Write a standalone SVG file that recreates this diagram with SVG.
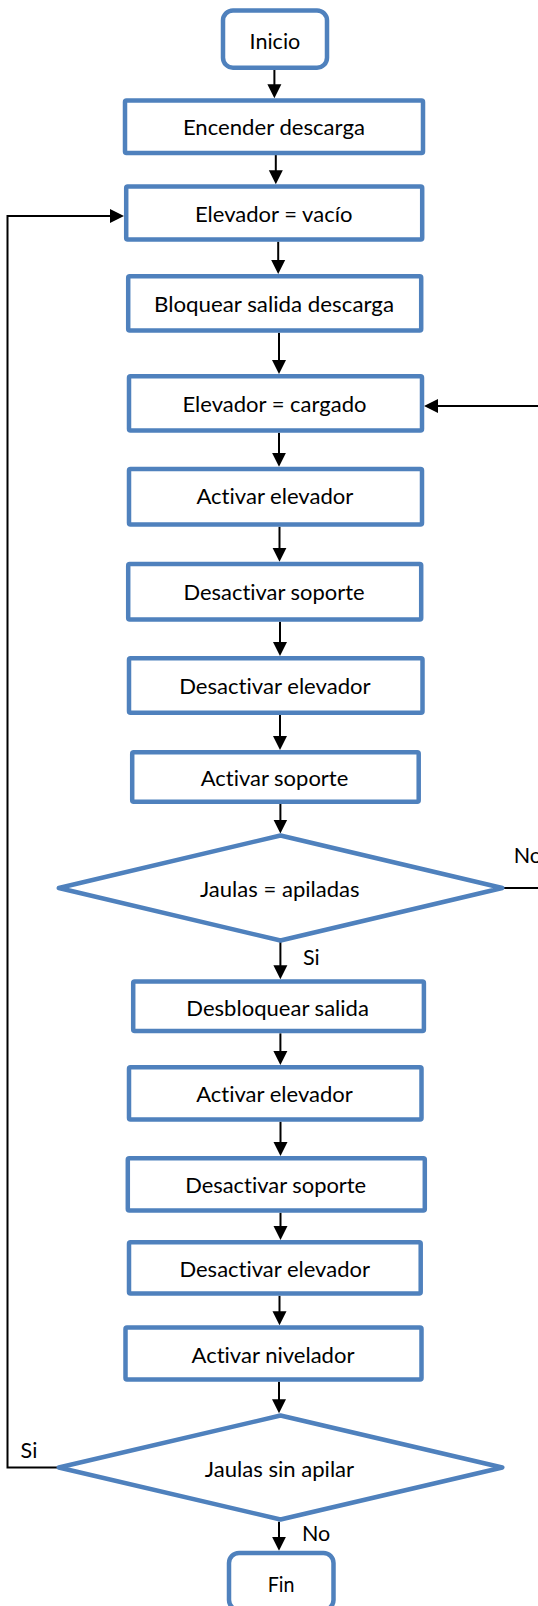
<svg xmlns="http://www.w3.org/2000/svg" width="538" height="1606" viewBox="0 0 538 1606">
<style>
.n{fill:#fff;stroke:#4F81BD;stroke-width:4.5;stroke-linejoin:round}
.t{font-family:Lato,"Open Sans","Liberation Sans",sans-serif;font-size:21.5px;fill:#000;text-anchor:middle;font-variant-ligatures:none;font-feature-settings:"liga" 0,"clig" 0,"dlig" 0}
.l{font-family:Lato,"Open Sans","Liberation Sans",sans-serif;font-size:21.5px;fill:#000;font-variant-ligatures:none}
.c{fill:none;stroke:#000;stroke-width:2}
</style>
<defs>
<marker id="ah" markerUnits="userSpaceOnUse" markerWidth="15" markerHeight="15" refX="9.5" refY="7.5" orient="auto">
<path d="M0,0.5 L14,7.5 L0,14.5 z" fill="#000"/>
</marker>
</defs>
<rect width="538" height="1606" fill="#fff"/>
<g id="connectors">
<path class="c" marker-end="url(#ah)" d="M274.4,70 V93.8"/>
<path class="c" marker-end="url(#ah)" d="M275.8,155 V179.8"/>
<path class="c" marker-end="url(#ah)" d="M278.2,241.7 V269.5"/>
<path class="c" marker-end="url(#ah)" d="M279,332.7 V369.5"/>
<path class="c" marker-end="url(#ah)" d="M279,432.7 V462.2"/>
<path class="c" marker-end="url(#ah)" d="M279.5,526.7 V557.2"/>
<path class="c" marker-end="url(#ah)" d="M280,621.7 V651.5"/>
<path class="c" marker-end="url(#ah)" d="M280,715 V745.5"/>
<path class="c" marker-end="url(#ah)" d="M280.4,804 V829"/>
<path class="c" marker-end="url(#ah)" d="M280.4,942 V974.8"/>
<path class="c" marker-end="url(#ah)" d="M280.4,1033.3 V1060.5"/>
<path class="c" marker-end="url(#ah)" d="M280.5,1121.7 V1151.5"/>
<path class="c" marker-end="url(#ah)" d="M280.5,1212.7 V1235.5"/>
<path class="c" marker-end="url(#ah)" d="M279.5,1295.7 V1320.8"/>
<path class="c" marker-end="url(#ah)" d="M279,1381.7 V1408.8"/>
<path class="c" marker-end="url(#ah)" d="M279,1521.7 V1546.2"/>
<path class="c" marker-end="url(#ah)" d="M502,888 H545 V406 H428.5"/>
<path class="c" marker-end="url(#ah)" d="M57,1467.5 H7.5 V216 H119.5"/>
<text class="l" x="513.7" y="863">No</text>
<text class="l" x="303" y="964.5">Si</text>
<text class="l" x="20.6" y="1458">Si</text>
<text class="l" x="302" y="1540.5">No</text>
</g>
<g id="inicio"><rect class="n" x="223" y="10.5" width="104" height="57.2" rx="10"/><text class="t" x="274.9" y="48.5" textLength="50.8" lengthAdjust="spacingAndGlyphs">Inicio</text></g>
<g id="encender"><rect class="n" x="125" y="100.5" width="298" height="52.5" rx="1.5"/><text class="t" x="273.9" y="135" textLength="182" lengthAdjust="spacingAndGlyphs">Encender descarga</text></g>
<g id="vacio"><rect class="n" x="126.2" y="186.5" width="296" height="53" rx="1.5"/><text class="t" x="273.7" y="221.7" textLength="157.5" lengthAdjust="spacingAndGlyphs">Elevador = vacío</text></g>
<g id="bloquear"><rect class="n" x="128.2" y="276.2" width="293" height="54.2" rx="1.5"/><text class="t" x="274" y="311.7" textLength="240" lengthAdjust="spacingAndGlyphs">Bloquear salida descarga</text></g>
<g id="cargado"><rect class="n" x="129" y="376.2" width="293" height="54.2" rx="1.5"/><text class="t" x="274.5" y="411.8" textLength="184" lengthAdjust="spacingAndGlyphs">Elevador = cargado</text></g>
<g id="activar-elevador-1"><rect class="n" x="129" y="469" width="293" height="55.5" rx="1.5"/><text class="t" x="274.9" y="504" textLength="157" lengthAdjust="spacingAndGlyphs">Activar elevador</text></g>
<g id="desactivar-soporte-1"><rect class="n" x="128.2" y="564" width="293" height="55.5" rx="1.5"/><text class="t" x="274" y="599.5" textLength="181" lengthAdjust="spacingAndGlyphs">Desactivar soporte</text></g>
<g id="desactivar-elevador-1"><rect class="n" x="129" y="658.2" width="293.5" height="54.5" rx="1.5"/><text class="t" x="274.9" y="693.5" textLength="191.5" lengthAdjust="spacingAndGlyphs">Desactivar elevador</text></g>
<g id="activar-soporte"><rect class="n" x="132.2" y="752.2" width="286.5" height="49.5" rx="1.5"/><text class="t" x="274.5" y="786" textLength="147.5" lengthAdjust="spacingAndGlyphs">Activar soporte</text></g>
<g id="jaulas-apiladas"><polygon class="n" points="280.5,835.5 502.3,888 280.5,940.5 58.8,888"/><text class="t" x="279.8" y="896.7" textLength="159.6" lengthAdjust="spacingAndGlyphs">Jaulas = apiladas</text></g>
<g id="desbloquear"><rect class="n" x="133.2" y="981.5" width="290.7" height="49.6" rx="1.5"/><text class="t" x="277.6" y="1016" textLength="182.6" lengthAdjust="spacingAndGlyphs">Desbloquear salida</text></g>
<g id="activar-elevador-2"><rect class="n" x="129" y="1067.2" width="292.5" height="52.2" rx="1.5"/><text class="t" x="274.5" y="1101.7" textLength="156.5" lengthAdjust="spacingAndGlyphs">Activar elevador</text></g>
<g id="desactivar-soporte-2"><rect class="n" x="127.8" y="1158.2" width="297" height="52.2" rx="1.5"/><text class="t" x="275.7" y="1193" textLength="181" lengthAdjust="spacingAndGlyphs">Desactivar soporte</text></g>
<g id="desactivar-elevador-2"><rect class="n" x="129" y="1242.2" width="291.7" height="51.2" rx="1.5"/><text class="t" x="274.7" y="1276.7" textLength="190.5" lengthAdjust="spacingAndGlyphs">Desactivar elevador</text></g>
<g id="activar-nivelador"><rect class="n" x="125.5" y="1327.5" width="296" height="52" rx="1.5"/><text class="t" x="273" y="1362.5" textLength="163" lengthAdjust="spacingAndGlyphs">Activar nivelador</text></g>
<g id="jaulas-sin-apilar"><polygon class="n" points="280.5,1415.5 502.3,1467.5 280.5,1519.5 58.8,1467.5"/><text class="t" x="279.5" y="1476.7" textLength="149.3" lengthAdjust="spacingAndGlyphs">Jaulas sin apilar</text></g>
<g id="fin"><rect class="n" x="229" y="1553" width="104.5" height="57" rx="10"/><text class="t" x="281" y="1591.5" textLength="26.7" lengthAdjust="spacingAndGlyphs">Fin</text></g>
</svg>
